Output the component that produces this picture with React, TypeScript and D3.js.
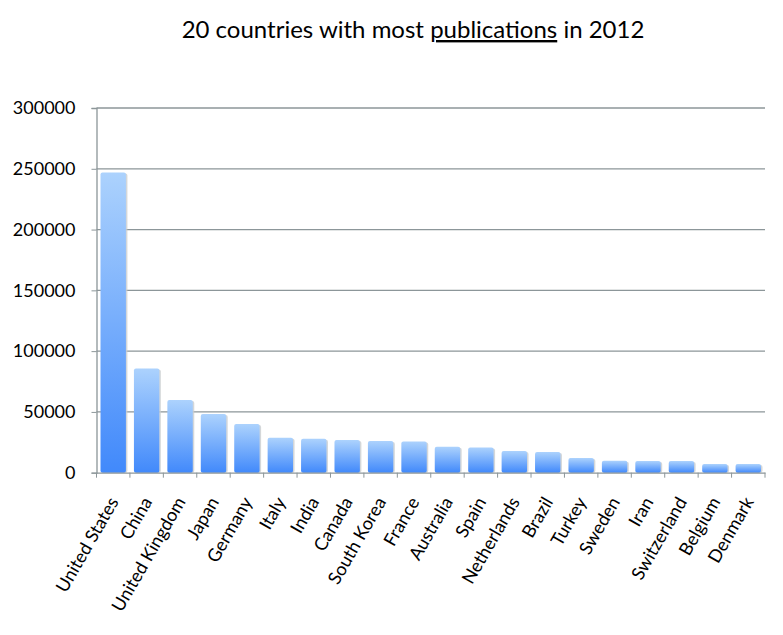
import React, { useEffect, useRef } from 'react';
import * as d3 from 'd3';

const countries = [
  'United States', 'China', 'United Kingdom', 'Japan', 'Germany', 'Italy', 'India',
  'Canada', 'South Korea', 'France', 'Australia', 'Spain', 'Netherlands', 'Brazil',
  'Turkey', 'Sweden', 'Iran', 'Switzerland', 'Belgium', 'Denmark',
];
const publications = [
  247000, 85700, 59700, 48200, 40000, 28700, 27900, 26800, 26000, 25700,
  21300, 20800, 17800, 17000, 12000, 9900, 9600, 9600, 7100, 7100,
];
const yTicks = [0, 50000, 100000, 150000, 200000, 250000, 300000];

const FONT = 'Lato, "Open Sans", sans-serif';

const App: React.FC = () => {
  const svgRef = useRef<SVGSVGElement | null>(null);

  useEffect(() => {
    if (!svgRef.current) return;
    const svg = d3.select(svgRef.current);
    svg.selectAll('*').remove();

    const left = 96.5;
    const right = 765;
    const top = 108;
    const bottom = 472.7;

    const x = d3.scaleBand<string>().domain(countries).range([left, right]).paddingInner(0.24).paddingOuter(0.12);
    const band = d3.scaleBand<string>().domain(countries).range([left, right]);
    const y = d3.scaleLinear().domain([0, 300000]).range([bottom, top]);

    // gradient for bars
    const defs = svg.append('defs');
    const grad = defs.append('linearGradient')
      .attr('id', 'barGrad')
      .attr('x1', 0).attr('y1', 0).attr('x2', 0).attr('y2', 1);
    grad.append('stop').attr('offset', '0%').attr('stop-color', '#acd2fd');
    grad.append('stop').attr('offset', '100%').attr('stop-color', '#4189fb');

    // title
    const title = svg.append('text')
      .attr('x', 413)
      .attr('y', 38)
      .attr('text-anchor', 'middle')
      .attr('font-family', FONT)
      .attr('font-size', 24)
      .attr('fill', '#000');
    title.append('tspan').text('20 countries with most ');
    title.append('tspan').attr('text-decoration', 'underline').text('publications');
    title.append('tspan').text(' in 2012');

    // gridlines
    svg.append('g')
      .selectAll('line')
      .data(yTicks.filter(d => d > 0))
      .join('line')
      .attr('x1', left)
      .attr('x2', right)
      .attr('y1', d => y(d))
      .attr('y2', d => y(d))
      .attr('stroke', '#8c9699')
      .attr('stroke-width', 1.3);

    // y axis
    const yAxis = svg.append('g')
      .attr('transform', `translate(${left},0)`)
      .call(d3.axisLeft(y).tickValues(yTicks).tickSize(5).tickPadding(16).tickFormat(d => String(d)));
    yAxis.select('.domain').attr('stroke', '#8c9699').attr('stroke-width', 1.3);
    yAxis.selectAll('.tick line').attr('stroke', '#8c9699');
    yAxis.selectAll('.tick text')
      .attr('font-family', FONT)
      .attr('font-size', 18)
      .attr('fill', '#000');

    // bar shadows
    svg.append('g')
      .selectAll('rect')
      .data(countries)
      .join('rect')
      .attr('x', d => x(d)! + 1.5)
      .attr('y', (d, i) => y(publications[i]) + 1)
      .attr('width', x.bandwidth())
      .attr('height', (d, i) => bottom - y(publications[i]) - 1)
      .attr('rx', 2)
      .attr('fill', '#c9cdd0')
      .attr('opacity', 0.8);

    // bars
    svg.append('g')
      .selectAll('rect')
      .data(countries)
      .join('rect')
      .attr('x', d => x(d)!)
      .attr('y', (d, i) => y(publications[i]))
      .attr('width', x.bandwidth())
      .attr('height', (d, i) => bottom - y(publications[i]))
      .attr('rx', 2)
      .attr('fill', 'url(#barGrad)');

    // x axis
    const xAxis = svg.append('g')
      .attr('transform', `translate(0,${bottom})`)
      .call(d3.axisBottom(band).tickSize(0).tickFormat(() => ''));
    xAxis.select('.domain').attr('stroke', '#8c9699').attr('stroke-width', 1.3);
    xAxis.selectAll('.tick').remove();

    // x tick marks at band edges
    svg.append('g')
      .selectAll('line')
      .data(countries.concat(['__end']))
      .join('line')
      .attr('x1', (d, i) => i < countries.length ? band(d)! : right)
      .attr('x2', (d, i) => i < countries.length ? band(d)! : right)
      .attr('y1', bottom)
      .attr('y2', bottom + 5)
      .attr('stroke', '#8c9699');

    // x labels
    svg.append('g')
      .selectAll('text')
      .data(countries)
      .join('text')
      .attr('transform', d => `translate(${band(d)! + band.bandwidth() / 2 + 6},${bottom + 29}) rotate(-60)`)
      .attr('text-anchor', 'end')
      .attr('font-family', FONT)
      .attr('font-size', 18)
      .attr('fill', '#000')
      .text(d => d);
  }, []);

  return (
    <svg ref={svgRef} width={783} height={635} style={{ display: 'block', position: 'absolute', left: 0, top: 0, background: '#fff' }} />
  );
};

export default App;
